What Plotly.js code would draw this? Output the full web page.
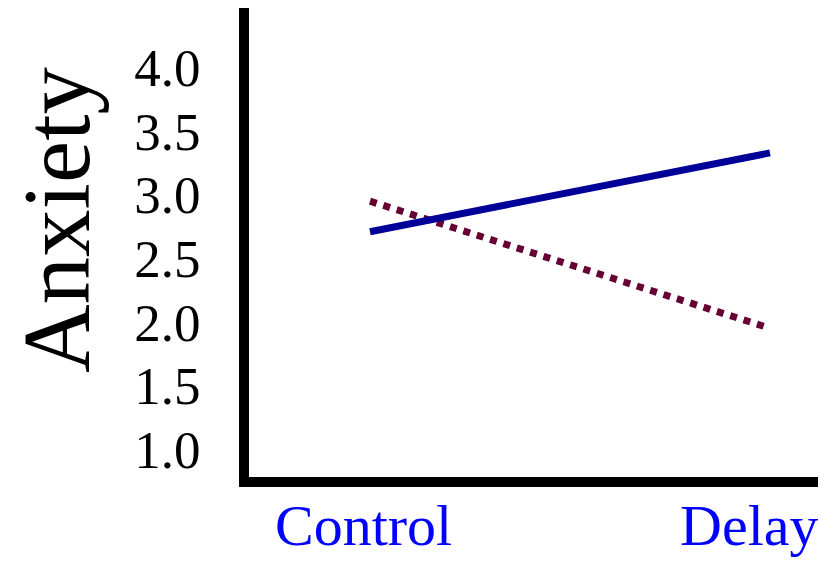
<!DOCTYPE html>
<html>
<head>
<meta charset="utf-8">
<script src="https://cdn.plot.ly/plotly-3.0.1.min.js"></script>
<style>html,body{margin:0;padding:0;background:#fff;}#chart{width:818px;height:562px;}</style>
</head>
<body>
<div id="chart"></div>
<script>
const categories = ["Control", "Delay"];
const seriesSolid = [2.71, 3.33];
const seriesDotted = [2.95, 1.95];
const yTickVals = [1.0, 1.5, 2.0, 2.5, 3.0, 3.5, 4.0];
const yTickText = ["1.0", "1.5", "2.0", "2.5", "3.0", "3.5", "4.0"];
const yTitle = "Anxiety";

const serif = "Liberation Serif, Times New Roman, serif";

const traces = [
  {x: categories, y: seriesDotted, type: "scatter", mode: "lines",
   line: {color: "#660033", width: 7, dash: "7px,7px"}, hoverinfo: "skip"},
  {x: categories, y: seriesSolid, type: "scatter", mode: "lines",
   line: {color: "#000099", width: 7}, hoverinfo: "skip"}
];

const layout = {
  width: 818, height: 562,
  margin: {l: 249, r: 0, t: 8, b: 85},
  paper_bgcolor: "#fff", plot_bgcolor: "#fff",
  showlegend: false,
  xaxis: {
    type: "category", range: [-0.3025, 1.12],
    showline: true, linecolor: "#000", linewidth: 10,
    showgrid: false, zeroline: false, showticklabels: false, ticks: "", fixedrange: true
  },
  yaxis: {
    range: [0.78, 4.47],
    tickvals: yTickVals, ticktext: yTickText,
    showline: true, linecolor: "#000", linewidth: 10,
    showgrid: false, zeroline: false, ticks: "",
    ticklabelstandoff: 28,
    tickfont: {family: serif, size: 53, color: "#000"}, fixedrange: true
  },
  annotations: [
    {text: categories[0], xref: "x", x: categories[0], yref: "paper", y: 0, yanchor: "top",
     xanchor: "center", xshift: -7, yshift: -14, showarrow: false,
     font: {family: serif, size: 58, color: "#0000FF"}},
    {text: categories[1], xref: "x", x: categories[1], yref: "paper", y: 0, yanchor: "top",
     xanchor: "center", xshift: -21, yshift: -14, showarrow: false,
     font: {family: serif, size: 58, color: "#0000FF"}},
    {text: yTitle, xref: "paper", x: 0, xanchor: "center", xshift: -192, yref: "paper", y: 0.548,
     yanchor: "middle", textangle: -90, showarrow: false, borderpad: 0,
     font: {family: serif, size: 95, color: "#000"}}
  ]
};

Plotly.newPlot("chart", traces, layout, {displayModeBar: false, staticPlot: true});
</script>
</body>
</html>
